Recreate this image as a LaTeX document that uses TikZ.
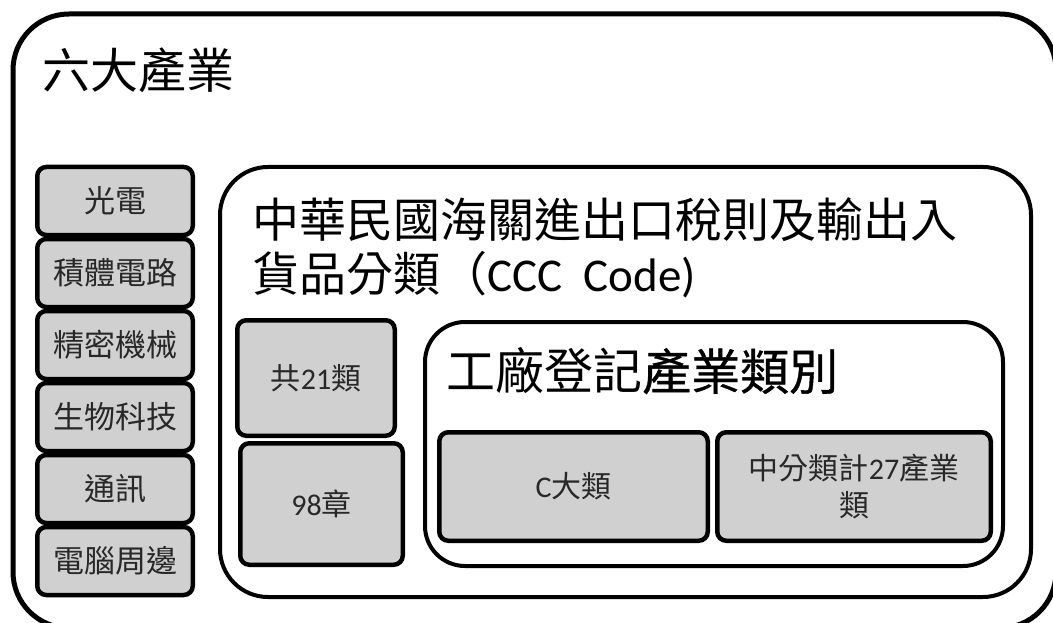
\documentclass[tikz,border=0pt]{standalone}
\usepackage{fontspec}
\setmainfont{Carlito}
\newfontfamily\cjk{Noto Sans CJK TC}
\newfontfamily\cjkb[FakeBold=0.8]{Noto Sans CJK TC}
\definecolor{boxgray}{RGB}{208,208,208}
\definecolor{txtgray}{RGB}{40,40,40}
\begin{document}
\begin{tikzpicture}[x=1pt,y=-1pt,
  frame/.style={draw, line width=5pt, rounded corners=56pt, fill=white, inner sep=0pt},
  panel/.style={draw, line width=4pt, fill=white, inner sep=0pt},
  graybox/.style={draw, line width=4.5pt, rounded corners=9pt, fill=boxgray, inner sep=0pt, align=center, text=txtgray},
  leftbox/.style={graybox, minimum width=155.5pt, minimum height=68pt, font=\fontsize{31}{36}\selectfont},
  title/.style={anchor=west, inner sep=0pt}]
\useasboundingbox (0,0) rectangle (1053,623);
% outer frame
\node[frame, minimum width=1043pt, minimum height=614pt] (outer) at (534.5,321) {};
\node[title, font=\fontsize{48}{56}\selectfont] (t1) at (42,70) {\cjk 六大產業};
% left column
\node[leftbox] (b1) at (115,201) {\cjk 光電};
\node[leftbox] (b2) at (115,273) {\cjk 積體電路};
\node[leftbox] (b3) at (115,345) {\cjk 精密機械};
\node[leftbox] (b4) at (115,417) {\cjk 生物科技};
\node[leftbox] (b5) at (115,489) {\cjk 通訊};
\node[leftbox] (b6) at (115,561) {\cjk 電腦周邊};
% middle panel
\node[panel, rounded corners=48pt, minimum width=811pt, minimum height=430pt] (mid) at (625.5,382) {};
\node[title, font=\fontsize{47}{56}\selectfont] (t2a) at (252,220) {\cjk 中華民國海關進出口稅則及輸出入};
\node[title, font=\fontsize{47}{56}\selectfont] (t2b) at (252,275) {{\cjk 貨品分類（}CCC\ \ Code)};
\node[graybox, minimum width=157.5pt, minimum height=115.5pt, font=\fontsize{30}{36}\selectfont] (c1) at (316,378) {{\cjk 共}21{\cjk 類}};
\node[graybox, minimum width=162.5pt, minimum height=121.5pt, font=\fontsize{30}{36}\selectfont] (c2) at (321.5,504) {98{\cjk 章}};
% inner panel
\node[panel, rounded corners=40pt, minimum width=578pt, minimum height=244pt] (inner) at (714,444) {};
\node[title, font=\fontsize{49}{56}\selectfont] (t3) at (446,371) {{\cjk 工廠登記}{\cjkb 產業類別}};
\node[graybox, minimum width=268.5pt, minimum height=108.5pt, font=\fontsize{30}{36}\selectfont] (d1) at (573.5,486.5) {C{\cjk 大類}};
\node[graybox, minimum width=273.5pt, minimum height=108.5pt, font=\fontsize{30}{37}\selectfont] (d2) at (854,486.5) {{\cjk 中分類計}27{\cjk 產業}\\{\cjk 類}};
\end{tikzpicture}
\end{document}
